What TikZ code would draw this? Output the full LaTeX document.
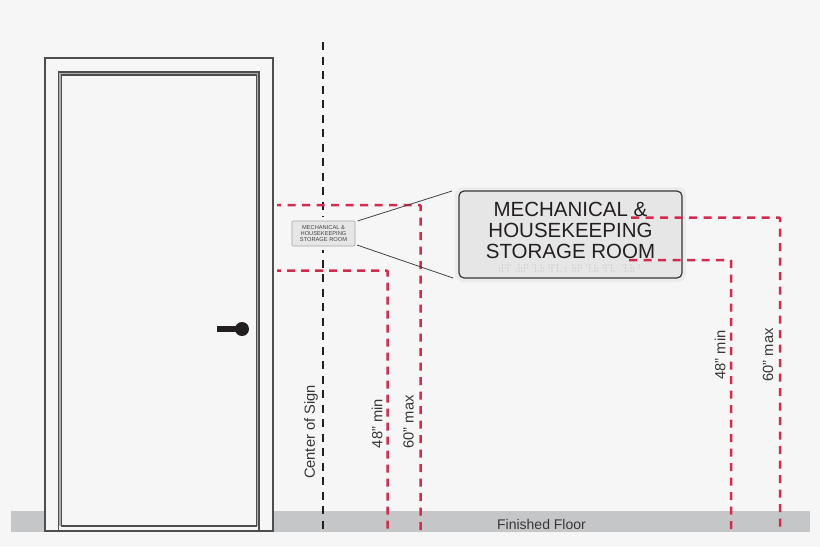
\documentclass[tikz,border=0pt]{standalone}
\usepackage{fontspec}
\setmainfont{Liberation Sans}
\definecolor{bgc}{HTML}{F6F6F6}
\definecolor{floorc}{HTML}{C5C6C8}
\definecolor{redc}{HTML}{D62A4C}
\definecolor{inkc}{HTML}{231F20}
\definecolor{framec}{HTML}{4D4E50}
\definecolor{signc}{HTML}{E6E6E7}
\definecolor{haloc}{HTML}{ECECED}
\tikzset{
  redline/.style={draw=redc,line width=2.5pt,dash pattern=on 8pt off 6.5pt,rounded corners=1pt},
  blackline/.style={draw=inkc,line width=2.6pt,dash pattern=on 8pt off 6.5pt},
  doorline/.style={draw=framec,line width=1.5pt},
  lead/.style={draw=inkc!85,line width=0.8pt},
  dimlabel/.style={rotate=90,font=\fontsize{14.7}{15}\selectfont,text=inkc!90,inner sep=0pt},
  floorlabel/.style={font=\fontsize{14}{14}\selectfont,text=inkc!90,inner sep=0pt},
  bigsign/.style={draw=inkc!90,line width=1.2pt,fill=signc,rounded corners=5pt,minimum width=223pt,minimum height=87pt,inner sep=0pt},
  smallsign/.style={draw=black!35,line width=0.6pt,fill=signc,minimum width=63pt,minimum height=25pt,inner sep=0pt,rounded corners=1pt},
  brailledot/.style={fill=black!20},
}
\begin{document}
\begin{tikzpicture}[x=1pt,y=-1pt]
\path[use as bounding box,fill=bgc] (0,0) rectangle (820,547);
\fill[floorc] (11,510.5) rectangle (810,532);
% door
\filldraw[doorline,fill=bgc] (45,58) rectangle (273,531);
\draw[draw=framec!45,line width=2pt] (60,526) -- (60,73.5) -- (257.8,73.5) -- (257.8,526);
\draw[doorline] (58.5,531) -- (58.5,72) -- (259.2,72) -- (259.2,531);
\draw[doorline] (61.5,526) -- (61.5,75) -- (256.5,75) -- (256.5,526) -- cycle;
\fill[inkc] (217,326) rectangle (240,332);
\fill[inkc] (242,329) circle (7);
% centre line
\coordinate (ct) at (323,42);
\coordinate (cb) at (323,532);
\draw[blackline] (ct) -- (cb);
% red dims left
\coordinate (a1) at (277,205); \coordinate (a2) at (420.5,205); \coordinate (a3) at (420.5,531);
\coordinate (b1) at (277,270.5); \coordinate (b2) at (387.5,270.5); \coordinate (b3) at (387.5,531);
\draw[redline,dash phase=4pt] (a1) -- (a2) -- (a3);
\draw[redline,dash pattern=on 8pt off 6pt,dash phase=4pt] (b1) -- (b2) -- (b3);
% signs
\fill[bgc] (289,217) rectangle (358,250);
\node[smallsign] (small) at (323.5,233.5) {};
\node[align=center,inner sep=0pt,text=inkc!85,font=\fontsize{5.7}{6}\selectfont] (smalltext) at (323.5,233.5) {MECHANICAL \&\\HOUSEKEEPING\\STORAGE ROOM};
\fill[haloc,rounded corners=8pt] (455,187) rectangle (686,282);
\node[bigsign] (big) at (570.5,234.5) {};
\node[align=center,inner sep=0pt,text=inkc,font=\fontsize{20.5}{21}\selectfont] (bigtext) at (570.5,230) {MECHANICAL \&\\HOUSEKEEPING\\STORAGE ROOM};
% braille
\foreach \cx in {497,502.5,...,566,573,578.5,...,613,620,625.5,...,641}{
  \foreach \cy in {265,268,271}{
    \pgfmathtruncatemacro{\ka}{mod(int(\cx*2)*7+\cy*5,3)}
    \pgfmathtruncatemacro{\kb}{mod(int(\cx*2)*11+\cy*7,4)}
    \ifnum\ka>0 \fill[brailledot] (\cx,\cy) circle (0.8); \fi
    \ifnum\kb>1 \fill[brailledot] (\cx+2.6,\cy) circle (0.8); \fi
  }
}
\coordinate (l1a) at (357.5,221); \coordinate (l1b) at (452,191);
\coordinate (l2a) at (357,245); \coordinate (l2b) at (453,278);
\draw[lead] (l1a) -- (l1b);
\draw[lead] (l2a) -- (l2b);
% red dims right
\coordinate (c1) at (631,217.5); \coordinate (c2) at (780,217.5); \coordinate (c3) at (780,531);
\coordinate (d1) at (629,260); \coordinate (d2) at (731,260); \coordinate (d3) at (731,531);
\draw[redline] (c1) -- (c2) -- (c3);
\draw[redline] (d1) -- (d2) -- (d3);
% labels
\node[dimlabel] (lc) at (311,432) {Center of Sign};
\node[dimlabel] (l48a) at (377,423.5) {48" min};
\node[dimlabel] (l60a) at (408.5,422) {60" max};
\node[dimlabel] (l48b) at (720,355) {48" min};
\node[dimlabel] (l60b) at (768,355) {60" max};
\node[floorlabel] (ff) at (541.5,524) {Finished Floor};
\end{tikzpicture}
\end{document}
